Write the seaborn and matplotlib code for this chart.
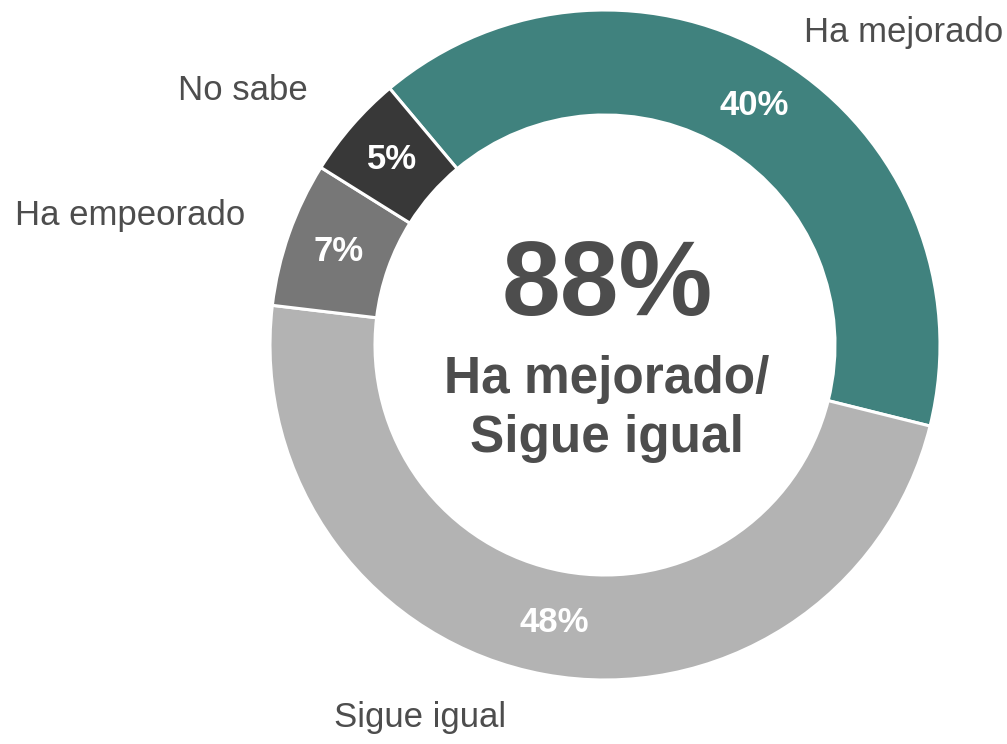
import matplotlib.pyplot as plt
import seaborn as sns

sns.set_theme(style='white')

# data
categories = ['Ha mejorado', 'Sigue igual', 'Ha empeorado', 'No sabe']
values = [40, 48, 7, 5]
colors = ['#40827E', '#B3B3B3', '#777777', '#383838']
center_value = '88%'
center_lines = ['Ha mejorado/', 'Sigue igual']

plt.rcParams['font.family'] = ['Liberation Sans', 'DejaVu Sans']
text_color = '#4D4D4D'

fig = plt.figure(figsize=(10.07, 7.44), dpi=100)
ax = fig.add_axes([0, 0, 1, 1])

wedges, _, pcts = ax.pie(
    values, colors=colors, startangle=130, counterclock=False,
    center=(605, 399), radius=335, frame=True,
    wedgeprops=dict(width=105, edgecolor='white', linewidth=2.2),
    autopct=lambda p: f'{p:.0f}%', pctdistance=0.842,
    textprops=dict(color='white', fontsize=25, fontweight='bold'))
ax.set_xlim(0, 1007)
ax.set_ylim(0, 744)
ax.set_aspect('equal')
ax.axis('off')

# outer labels (x, baseline y, alignment)
label_pos = [(1003, 702, 'right'), (420, 17, 'center'),
             (130, 519, 'center'), (243, 644, 'center')]
for name, (x, y, ha) in zip(categories, label_pos):
    ax.text(x, y, name, ha=ha, va='baseline', fontsize=25, color=text_color)

ax.text(607, 429, center_value, ha='center', va='baseline', fontsize=76,
        fontweight='bold', color=text_color)
for line, y in zip(center_lines, [351, 292]):
    ax.text(607, y, line, ha='center', va='baseline', fontsize=37,
            fontweight='bold', color=text_color)

plt.savefig('out.png', dpi=100)
